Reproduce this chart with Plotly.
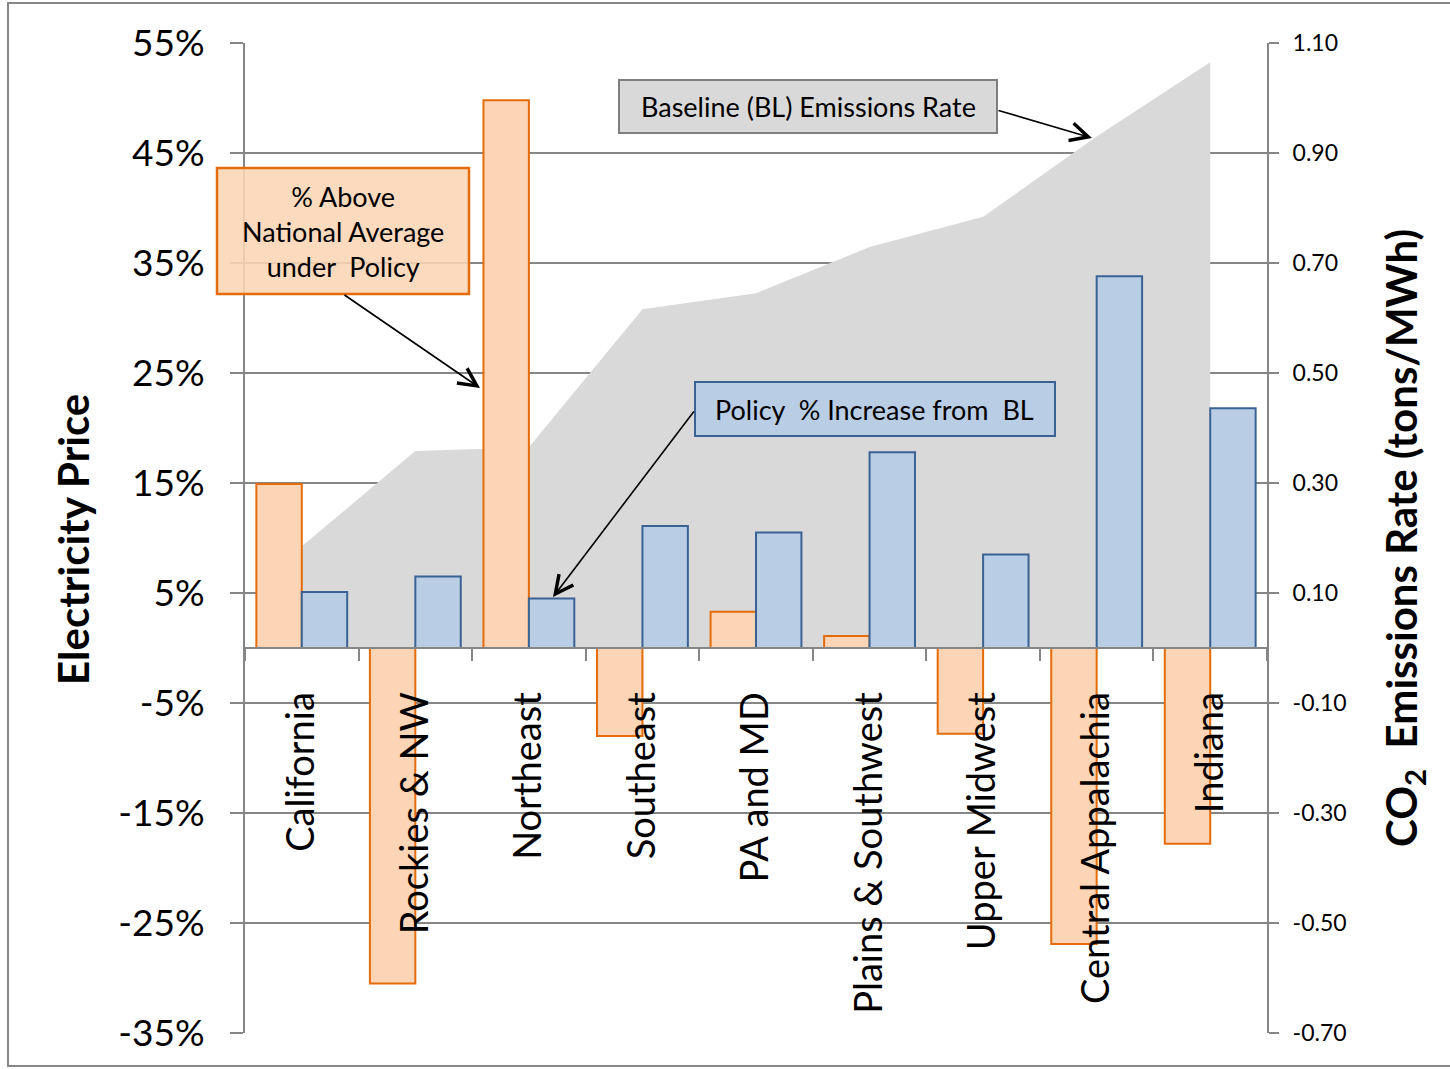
import plotly.graph_objects as go

# ---------------- data ----------------
regions = ["California", "Rockies & NW", "Northeast", "Southeast", "PA and MD",
           "Plains & Southwest", "Upper Midwest", "Central Appalachia", "Indiana"]
pct_above_national = [14.9, -30.5, 49.8, -8.0, 3.3, 1.1, -7.8, -26.9, -17.8]
pct_increase_from_bl = [5.1, 6.5, 4.5, 11.1, 10.5, 17.8, 8.5, 33.8, 21.8]
baseline_emissions = [0.185, 0.358, 0.365, 0.616, 0.645, 0.729, 0.784, 0.93, 1.065]

left_tickvals = [55, 45, 35, 25, 15, 5, -5, -15, -25, -35]
left_ticktext = ["55%", "45%", "35%", "25%", "15%", "5%", "-5%", "-15%", "-25%", "-35%"]
right_tickvals = [1.10, 0.90, 0.70, 0.50, 0.30, 0.10, -0.10, -0.30, -0.50, -0.70]
right_ticktext = ["1.10", "0.90", "0.70", "0.50", "0.30", "0.10", "-0.10", "-0.30", "-0.50", "-0.70"]

# ---------------- layout geometry (pixels) ----------------
W, H = 1450, 1069
PL, PR, PT, PB = 245, 1267, 43, 1033


def px(x):
    return (x - PL) / (PR - PL)


def py(y):
    return (PB - y) / (PB - PT)


FONT = "Lato, Carlito, Calibri, sans-serif"
GRID = "#868686"
ORANGE_FILL = "#FBD5B5"
ORANGE_LINE = "#E46C0A"
BLUE_FILL = "#B9CDE5"
BLUE_LINE = "#3A6394"
GRAY_AREA = "#D9D9D9"

fig = go.Figure()

fig.add_trace(go.Scatter(
    x=regions, y=baseline_emissions, mode="lines", fill="tozeroy",
    fillcolor=GRAY_AREA, line=dict(width=0, color=GRAY_AREA),
    xaxis="x", yaxis="y", hoverinfo="skip", showlegend=False,
))
fig.add_trace(go.Bar(
    x=regions, y=pct_above_national, xaxis="x", yaxis="y2",
    marker=dict(color=ORANGE_FILL, line=dict(color=ORANGE_LINE, width=2)),
    showlegend=False,
))
fig.add_trace(go.Bar(
    x=regions, y=pct_increase_from_bl, xaxis="x", yaxis="y2",
    marker=dict(color=BLUE_FILL, line=dict(color=BLUE_LINE, width=2)),
    showlegend=False,
))

shapes = [
    # outer chart frame
    dict(type="rect", xref="paper", yref="paper",
         x0=px(8), x1=px(1470), y0=py(1066), y1=py(3),
         line=dict(color=GRID, width=2), fillcolor="rgba(0,0,0,0)", layer="below"),
    # annotation boxes
    dict(type="rect", xref="paper", yref="paper",
         x0=px(619), x1=px(997), y0=py(133), y1=py(80),
         line=dict(color="#7F7F7F", width=2), fillcolor="#D9D9D9", layer="above"),
    dict(type="rect", xref="paper", yref="paper",
         x0=px(217), x1=px(469), y0=py(294), y1=py(168),
         line=dict(color=ORANGE_LINE, width=2.5), fillcolor="rgba(251,213,181,0.88)",
         layer="above"),
    dict(type="rect", xref="paper", yref="paper",
         x0=px(695), x1=px(1055), y0=py(436), y1=py(382),
         line=dict(color=BLUE_LINE, width=2), fillcolor=BLUE_FILL, layer="above"),
]

annotations = []
# box texts
box_font = dict(family=FONT, size=27, color="black")
annotations.append(dict(xref="paper", yref="paper", x=px(808), y=py(107),
                        text="Baseline (BL) Emissions Rate", showarrow=False,
                        font=box_font, xanchor="center", yanchor="middle"))
annotations.append(dict(xref="paper", yref="paper", x=px(343), y=py(231),
                        text="% Above<br>National Average<br>under  Policy", showarrow=False,
                        font=box_font, xanchor="center", yanchor="middle"))
annotations.append(dict(xref="paper", yref="paper", x=px(874), y=py(409),
                        text="Policy  % Increase from  BL", showarrow=False,
                        font=box_font, xanchor="center", yanchor="middle"))

# arrows (tail -> tip)
for (tx, ty), (hx, hy) in [((997, 110), (1092, 138)),
                           ((343, 294), (480, 388)),
                           ((695, 410), (553, 597))]:
    annotations.append(dict(xref="paper", yref="paper", x=px(hx), y=py(hy),
                            ax=tx - hx, ay=ty - hy, text="", showarrow=True,
                            arrowhead=5, arrowsize=2.2, arrowwidth=1.6,
                            arrowcolor="black", standoff=0, startstandoff=0))

# axis titles
annotations.append(dict(xref="paper", yref="paper", x=px(73), y=py(540),
                        text="<b>Electricity Price</b>", textangle=-90, showarrow=False,
                        font=dict(family=FONT, size=42, color="black"),
                        xanchor="center", yanchor="middle"))
annotations.append(dict(xref="paper", yref="paper", x=px(1404), y=py(538),
                        text="<b>CO<sub>2</sub>  Emissions Rate (tons/MWh)</b>", textangle=-90,
                        showarrow=False,
                        font=dict(family=FONT, size=42, color="black"),
                        xanchor="center", yanchor="middle"))

fig.update_layout(
    width=W, height=H,
    margin=dict(l=PL, r=W - PR, t=PT, b=H - PB, pad=0),
    paper_bgcolor="white", plot_bgcolor="white",
    barmode="group", bargap=0.2, bargroupgap=0,
    showlegend=False,
    font=dict(family=FONT, color="black"),
    xaxis=dict(
        type="category", anchor="free", position=35 / 90,
        showline=True, linecolor=GRID, linewidth=2,
        ticks="outside", ticklen=12, tickwidth=2, tickcolor=GRID,
        tickson="boundaries", showgrid=False, zeroline=False,
        tickangle=-90, tickfont=dict(family=FONT, size=38, color="black"),
        ticklabelstandoff=28,
    ),
    yaxis=dict(
        side="right", range=[-0.70, 1.10], tickvals=right_tickvals, ticktext=right_ticktext,
        showline=True, linecolor=GRID, linewidth=2,
        ticks="outside", ticklen=10, tickwidth=2, tickcolor=GRID,
        showgrid=True, gridcolor=GRID, gridwidth=2, zeroline=False,
        tickfont=dict(family=FONT, size=23, color="black"), ticklabelstandoff=9,
    ),
    yaxis2=dict(
        overlaying="y", side="left", range=[-35, 55],
        tickvals=left_tickvals, ticktext=left_ticktext,
        showline=True, linecolor=GRID, linewidth=2,
        ticks="outside", ticklen=13, tickwidth=2, tickcolor=GRID,
        showgrid=False, zeroline=False,
        tickfont=dict(family=FONT, size=37, color="black"), ticklabelstandoff=18,
    ),
    shapes=shapes,
    annotations=annotations,
)

fig.write_html("out.html")
